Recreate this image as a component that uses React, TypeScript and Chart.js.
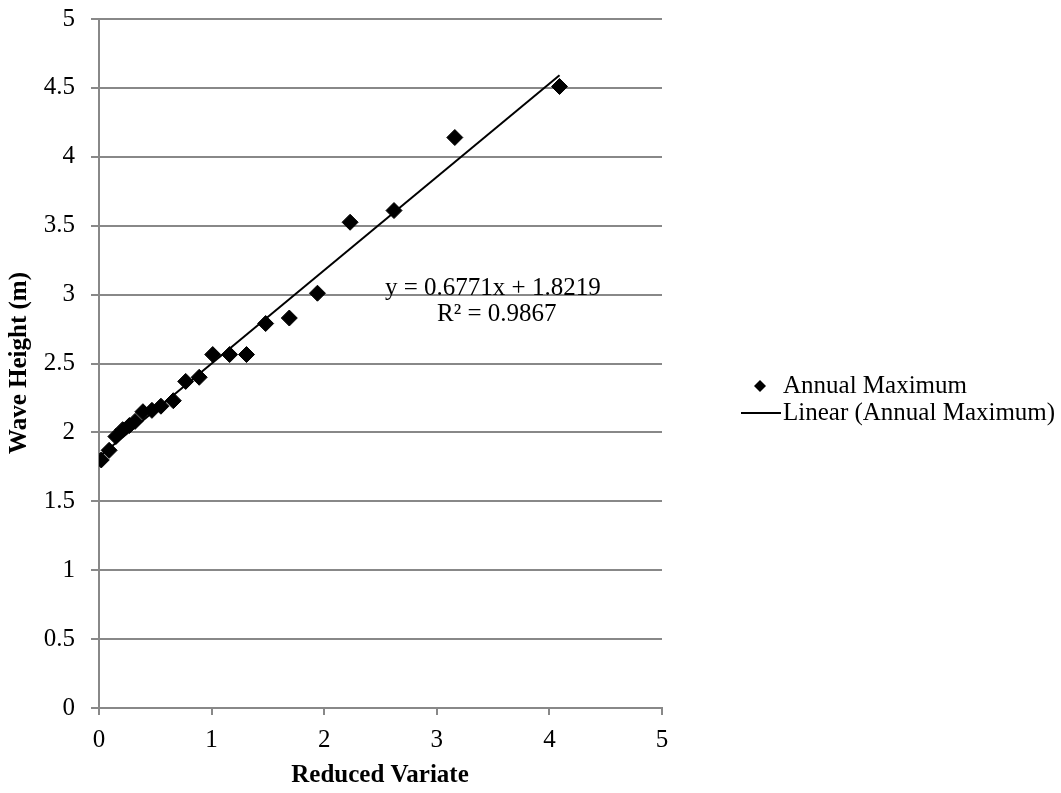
import React, { useEffect, useRef } from "react";
import { Chart, registerables } from "chart.js";

Chart.register(...registerables);

// Data
const reducedVariate: number[] = [
  0.02, 0.09, 0.15, 0.21, 0.27, 0.32, 0.39, 0.47, 0.55, 0.66, 0.77,
  0.89, 1.01, 1.16, 1.31, 1.48, 1.69, 1.94, 2.23, 2.62, 3.16, 4.09,
];
const waveHeight: number[] = [
  1.8, 1.87, 1.97, 2.02, 2.05, 2.08, 2.15, 2.16, 2.19, 2.23, 2.37,
  2.4, 2.565, 2.565, 2.565, 2.79, 2.83, 3.01, 3.525, 3.61, 4.14, 4.51,
];
const trendSlope = 0.6771;
const trendIntercept = 1.8219;
const equationLabel = "y = 0.6771x + 1.8219";
const rSquaredLabel = "R² = 0.9867";
const seriesLabel = "Annual Maximum";
const trendLabel = "Linear (Annual Maximum)";
const xTitle = "Reduced Variate";
const yTitle = "Wave Height (m)";

const FONT = '"Liberation Serif", "Times New Roman", serif';
const GRID = "#888888";

export default function App() {
  const ref = useRef<HTMLCanvasElement | null>(null);

  useEffect(() => {
    if (!ref.current) return;
    const xMin = Math.min(...reducedVariate);
    const xMax = Math.max(...reducedVariate);
    const trendData = [
      { x: xMin, y: trendSlope * xMin + trendIntercept },
      { x: xMax, y: trendSlope * xMax + trendIntercept },
    ];

    const overlay = {
      id: "overlay",
      afterDraw(chart: any) {
        const ctx = chart.ctx;
        ctx.save();
        ctx.fillStyle = "#000";
        // equation
        ctx.font = `25px ${FONT}`;
        ctx.textBaseline = "middle";
        ctx.textAlign = "left";
        ctx.fillText(equationLabel, 385, 288);
        ctx.fillText(rSquaredLabel, 437, 314);
        // legend
        ctx.beginPath();
        const dx = 760, dy = 386, r = 6;
        ctx.moveTo(dx - r, dy);
        ctx.lineTo(dx, dy - r);
        ctx.lineTo(dx + r, dy);
        ctx.lineTo(dx, dy + r);
        ctx.closePath();
        ctx.fill();
        ctx.fillText(seriesLabel, 783, dy);
        ctx.strokeStyle = "#000";
        ctx.lineWidth = 2;
        ctx.beginPath();
        ctx.moveTo(741, 413);
        ctx.lineTo(781, 413);
        ctx.stroke();
        ctx.fillText(trendLabel, 783, 413);
        // axis titles
        ctx.font = `bold 25px ${FONT}`;
        ctx.textAlign = "center";
        ctx.fillText(xTitle, 380, 776);
        ctx.translate(20, 363);
        ctx.rotate(-Math.PI / 2);
        ctx.fillText(yTitle, 0, 0);
        ctx.restore();
      },
    };

    const chart = new Chart(ref.current, {
      type: "scatter",
      data: {
        datasets: [
          {
            label: seriesLabel,
            data: reducedVariate.map((x, i) => ({ x, y: waveHeight[i] })),
            pointStyle: "rectRot",
            pointRadius: 8,
            backgroundColor: "#000",
            borderColor: "#000",
            borderWidth: 1,
            order: 1,
          },
          {
            type: "line",
            label: trendLabel,
            data: trendData,
            borderColor: "#000",
            borderWidth: 2,
            pointRadius: 0,
            showLine: true,
            fill: false,
            order: 2,
          } as any,
        ],
      },
      options: {
        responsive: false,
        animation: false,
        layout: { padding: { top: 19, right: 399, left: 0, bottom: 0 } },
        plugins: {
          legend: { display: false },
          tooltip: { enabled: false },
        },
        scales: {
          x: {
            type: "linear",
            min: 0,
            max: 5,
            ticks: {
              stepSize: 1,
              color: "#000",
              font: { family: FONT, size: 25 },
              padding: 10,
              callback: (v: any) => `${v}`,
            },
            grid: {
              drawOnChartArea: false,
              drawTicks: true,
              tickLength: 7,
              color: GRID,
              lineWidth: 2,
            },
            border: { color: GRID, width: 2 },
            afterFit: (s: any) => {
              s.height = 85;
              s.paddingLeft = 0;
              s.paddingRight = 0;
            },
          },
          y: {
            type: "linear",
            min: 0,
            max: 5,
            ticks: {
              stepSize: 0.5,
              color: "#000",
              font: { family: FONT, size: 25 },
              padding: 16,
              callback: (v: any) => `${v}`,
            },
            grid: {
              drawTicks: true,
              tickLength: 8,
              color: GRID,
              lineWidth: 2,
            },
            border: { color: GRID, width: 2 },
            afterFit: (s: any) => {
              s.width = 99;
              s.paddingTop = 0;
              s.paddingBottom = 0;
            },
          },
        },
      },
      plugins: [overlay],
    });
    return () => chart.destroy();
  }, []);

  return (
    <div style={{ position: "absolute", left: 0, top: 0, width: 1061, height: 793, background: "#fff" }}>
      <canvas ref={ref} width={1061} height={793} style={{ display: "block" }} />
    </div>
  );
}
